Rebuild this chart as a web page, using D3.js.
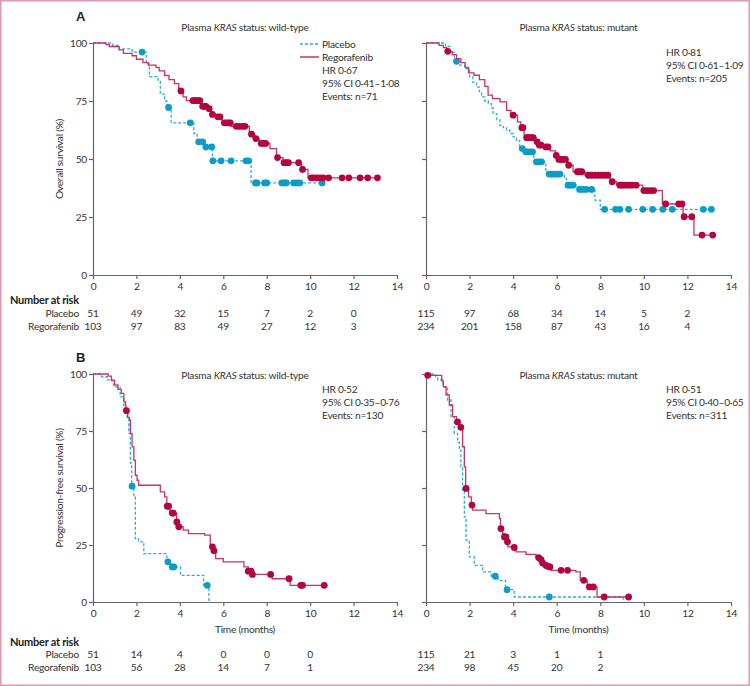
<!DOCTYPE html>
<html>
<head>
<meta charset="utf-8">
<script src="https://cdn.jsdelivr.net/npm/d3@7"></script>
<style>
    body { margin: 0; background: #fff; }
    svg { display: block; font-family: Lato, "Open Sans", sans-serif; }
    svg text { font-size: 10.2px; letter-spacing: -0.25px; }
</style>
</head>
<body>
<svg id="chart" width="750" height="686"></svg>
<script>
// 时间刻度（月）
const timeTicks = [0, 2, 4, 6, 8, 10, 12, 14];
const survTicks = [0, 25, 50, 75, 100];

// A 总生存期 野生型
const osWtPlaceboT = [0, 0.9, 1.2, 1.8, 2.45, 2.6, 3.0, 3.1, 3.3, 3.4, 3.6, 4.64, 4.8, 5.1, 5.5, 7.28];
const osWtPlaceboS = [100, 99, 97.5, 96.1, 91, 85.5, 83.5, 78, 75, 72.2, 65.6, 61, 57.4, 55.2, 49.2, 39.7];
const osWtPlaceboCensor = [2.26, 3.48, 4.48, 4.87, 5.05, 5.2, 5.47, 5.52, 5.9, 6.36, 7.05, 7.17, 7.48, 7.55, 7.9, 8.0, 8.7, 8.83, 8.9, 9.24, 9.4, 9.52, 10.55];
const osWtPlaceboEnd = 10.55;

const osWtRegoT = [0, 0.6, 0.75, 1.2, 1.4, 1.8, 2.0, 2.3, 2.55, 2.9, 3.05, 3.3, 3.5, 3.75, 3.95, 4.15, 4.3, 4.97, 5.27, 5.45, 5.65, 5.95, 6.35, 7.2, 7.45, 7.65, 8.15, 8.45, 8.75, 9.6, 9.9];
const osWtRegoS = [100, 99.3, 98.5, 97, 95.5, 94.5, 93, 91.5, 90.5, 89.5, 88, 86, 84.2, 82.5, 79.3, 76.8, 75.2, 72.7, 71.7, 69.2, 68.2, 65.6, 64.1, 60.7, 58.8, 56.7, 54.5, 50.6, 48.4, 45.5, 41.9];
const osWtRegoCensor = [4.05, 4.6, 4.68, 4.76, 4.85, 4.92, 5.05, 5.12, 5.2, 5.35, 5.5, 5.75, 5.85, 6.05, 6.15, 6.25, 6.32, 6.6, 6.75, 6.9, 7.0, 7.3, 7.5, 7.75, 7.85, 7.95, 8.5, 8.8, 8.9, 9.0, 9.47, 9.65, 10.05, 10.15, 10.3, 10.45, 10.6, 10.85, 11.47, 11.78, 12.3, 12.65, 13.1];
const osWtRegoEnd = 13.1;

// A 总生存期 突变型
const osMutPlaceboT = [0, 0.9, 1.1, 1.3, 1.55, 1.78, 2.0, 2.15, 2.32, 2.45, 2.55, 2.7, 2.86, 3.0, 3.08, 3.25, 3.39, 3.55, 3.7, 3.85, 4.0, 4.15, 4.3, 4.5, 4.95, 5.5, 5.6, 6.35, 6.45, 6.95, 7.75, 8.0];
const osMutPlaceboS = [100, 98.5, 96, 92.1, 90.5, 89, 85.4, 83, 81, 79, 76.8, 75, 73.9, 72, 69.6, 67, 64.5, 63.5, 62.5, 61, 59.5, 58, 54.5, 53.1, 48.8, 45.2, 43.5, 41.6, 38.7, 36.9, 32.3, 28.3];
const osMutPlaceboCensor = [1.4, 4.42, 4.58, 4.68, 4.8, 4.89, 5.07, 5.2, 5.3, 5.65, 5.75, 5.85, 5.95, 6.05, 6.15, 6.52, 6.62, 6.75, 7.05, 7.2, 7.35, 7.6, 8.2, 8.7, 8.9, 9.3, 9.95, 10.4, 10.87, 11.3, 12.73, 13.1];
const osMutPlaceboEnd = 13.1;

const osMutRegoT = [0, 0.6, 0.8, 0.95, 1.2, 1.4, 1.6, 1.8, 1.95, 2.2, 2.45, 2.7, 2.85, 3.05, 3.4, 3.7, 3.9, 4.2, 4.35, 4.5, 4.6, 5.05, 5.15, 5.35, 5.7, 5.95, 6.05, 6.5, 6.75, 7.3, 8.45, 8.75, 9.95, 10.85, 11.8, 12.3];
const osMutRegoS = [100, 99, 98, 96.4, 95, 93.3, 91.5, 89.5, 87.1, 86.1, 84.2, 81.3, 77.5, 76, 74.6, 71, 68.9, 66, 63.5, 60.3, 59.2, 57.4, 56, 55.2, 53.5, 51.5, 49.8, 47.3, 44.5, 43, 40.2, 38.7, 36.4, 30.6, 25.1, 17.2];
const osMutRegoCensor = [1.0, 4.0, 4.4, 4.45, 4.62, 4.68, 4.75, 4.85, 4.92, 5.1, 5.2, 5.28, 5.5, 5.6, 5.98, 6.1, 6.2, 6.3, 6.4, 6.55, 6.95, 7.05, 7.15, 7.45, 7.6, 7.75, 7.9, 8.05, 8.2, 8.35, 8.55, 8.9, 9.0, 9.15, 9.3, 9.45, 9.65, 10.0, 10.15, 10.3, 10.45, 11.0, 11.6, 11.75, 11.85, 12.2, 12.67, 13.16];
const osMutRegoEnd = 13.16;

// B 无进展生存期 野生型
const pfsWtPlaceboT = [0, 0.4, 0.65, 0.95, 1.25, 1.42, 1.57, 1.65, 1.72, 1.78, 1.88, 1.95, 2.1, 2.34, 3.4, 3.55, 4.03, 5.1, 5.34];
const pfsWtPlaceboS = [100, 98.8, 97.4, 94.4, 90, 85, 81, 74, 60.9, 50.8, 46, 27.8, 26.4, 21.2, 17.6, 15.4, 11.7, 7.3, 0];
const pfsWtPlaceboCensor = [1.8, 3.45, 3.65, 3.72, 5.26];
const pfsWtPlaceboEnd = 5.34;

const pfsWtRegoT = [0, 0.7, 0.85, 1.0, 1.15, 1.3, 1.42, 1.5, 1.52, 1.6, 1.68, 1.72, 1.8, 1.88, 1.95, 2.03, 2.1, 3.1, 3.3, 3.4, 3.55, 3.85, 3.93, 4.15, 4.4, 5.15, 5.4, 5.55, 5.65, 6.0, 6.95, 7.15, 7.3, 8.25, 9.08];
const pfsWtRegoS = [100, 99.1, 97.1, 95.2, 93.3, 91.5, 87.8, 86, 83.9, 81, 79.8, 74, 68, 62.2, 55.6, 53.4, 51.2, 48.3, 46.1, 42, 39, 35.1, 33, 31.5, 30, 29.3, 24.2, 22.5, 19.0, 17.6, 15.4, 13.5, 12.1, 10.2, 7.3];
const pfsWtRegoCensor = [1.54, 3.42, 3.48, 3.65, 3.7, 3.86, 3.95, 5.5, 5.57, 7.15, 7.28, 7.34, 8.18, 9.03, 9.57, 9.65, 10.65];
const pfsWtRegoEnd = 10.65;

// B 无进展生存期 突变型
const pfsMutPlaceboT = [0, 0.45, 0.54, 0.77, 0.99, 1.15, 1.3, 1.45, 1.53, 1.6, 1.68, 1.76, 1.84, 1.99, 2.22, 2.6, 3.0, 3.3, 3.65, 4.05, 9.05];
const pfsMutPlaceboS = [100, 98.8, 97.4, 94.4, 88.6, 81.3, 74, 70, 66.7, 59.3, 49, 37.3, 27.1, 19.8, 16.1, 13.2, 11.3, 9.5, 5.4, 2.2, 0];
const pfsMutPlaceboCensor = [3.18, 3.72, 5.66];
const pfsMutPlaceboEnd = 9.05;

const pfsMutRegoT = [0, 0.05, 0.72, 0.8, 0.92, 1.07, 1.22, 1.4, 1.55, 1.68, 1.76, 1.82, 1.95, 2.08, 2.14, 2.75, 3.37, 3.42, 3.52, 3.58, 3.72, 3.76, 4.02, 4.13, 4.59, 5.05, 5.15, 5.25, 5.33, 5.45, 5.55, 5.65, 5.75, 6.88, 7.08, 7.4, 7.85];
const pfsMutRegoS = [100, 99.4, 97, 94.4, 90.8, 86.4, 81.3, 79, 76.6, 68.1, 59.3, 49.8, 46.1, 42.5, 40.3, 38.8, 36.6, 32.2, 30, 28.5, 26.4, 24.2, 23.9, 22, 20.9, 19.8, 19.5, 18.6, 17.1, 16.1, 15.7, 15.4, 13.9, 13.2, 9.5, 6.6, 2.2];
const pfsMutRegoCensor = [0.08, 1.45, 1.6, 1.84, 2.11, 3.44, 3.6, 3.67, 3.74, 4.05, 5.17, 5.28, 5.35, 5.5, 5.58, 5.69, 6.2, 6.5, 7.24, 7.5, 7.68, 8.18, 9.3];
const pfsMutRegoEnd = 9.3;

// 风险人数
const osWtRiskPlacebo = [51, 49, 32, 15, 7, 2, 0];
const osWtRiskRego = [103, 97, 83, 49, 27, 12, 3];
const osMutRiskPlacebo = [115, 97, 68, 34, 14, 5, 2];
const osMutRiskRego = [234, 201, 158, 87, 43, 16, 4];
const pfsWtRiskPlacebo = [51, 14, 4, 0, 0, 0];
const pfsWtRiskRego = [103, 56, 28, 14, 7, 1];
const pfsMutRiskPlacebo = [115, 21, 3, 1, 1];
const pfsMutRiskRego = [234, 98, 45, 20, 2];

const placeboColor = "#2aaed6";
const placeboDot = "#0d9cc6";
const regoColor = "#c93462";
const regoDot = "#b3063f";

class kmPanel {

    constructor({svg, x0, x1, yTop, yBottom}) {
        this.svg = svg;
        this.scaleX = d3.scaleLinear().domain([0, 14]).range([x0, x1]);
        this.scaleY = d3.scaleLinear().domain([0, 100]).range([yBottom, yTop]);
        this.g = svg.append("g");
    }

    // 坐标轴
    drawAxes(showYLabels) {
        const axisX = this.g.append("g")
            .attr("transform", `translate(0,${this.scaleY(0)})`)
            .call(d3.axisBottom(this.scaleX).tickValues(timeTicks).tickSize(4).tickSizeOuter(0).tickPadding(4));
        const axisY = this.g.append("g")
            .attr("transform", `translate(${this.scaleX(0)},0)`)
            .call(d3.axisLeft(this.scaleY).tickValues(survTicks).tickSize(4).tickSizeOuter(0).tickPadding(2)
                .tickFormat(d => showYLabels ? d : ""));
        [axisX, axisY].forEach(a => {
            a.attr("font-size", null).attr("font-family", null);
            a.selectAll("path, line").attr("stroke", "#666").attr("stroke-width", 1.2);
            a.selectAll("text").attr("fill", "#333");
        });
        return this;
    }

    // 阶梯生存曲线 + 删失点
    drawCurve(times, surv, end, censor, color, dotColor, dashed) {
        const pts = times.map((t, i) => [t, surv[i]]);
        pts.push([end, surv[surv.length - 1]]);
        const line = d3.line()
            .x(d => this.scaleX(d[0]))
            .y(d => this.scaleY(d[1]))
            .curve(d3.curveStepAfter);
        this.g.append("path")
            .datum(pts)
            .attr("fill", "none")
            .attr("stroke", color)
            .attr("stroke-width", 1.3)
            .attr("stroke-dasharray", dashed ? "3,2" : null)
            .attr("d", line);

        const valueAt = t => surv[Math.max(0, d3.bisectRight(times, t) - 1)];
        this.g.append("g").selectAll("circle")
            .data(censor)
            .join("circle")
            .attr("cx", d => this.scaleX(d))
            .attr("cy", d => this.scaleY(valueAt(d)))
            .attr("r", 3.4)
            .attr("fill", dotColor);
        return this;
    }

    title(text, y) {
        const t = this.g.append("text")
            .attr("x", (this.scaleX(0) + this.scaleX(14)) / 2)
            .attr("y", y)
            .attr("text-anchor", "middle")
            .attr("fill", "#333");
        t.append("tspan").text("Plasma ");
        t.append("tspan").style("font-style", "italic").text("KRAS");
        t.append("tspan").text(" status: " + text);
        return this;
    }

    notes(lines, x, y) {
        this.g.append("g").selectAll("text")
            .data(lines)
            .join("text")
            .attr("x", x)
            .attr("y", (d, i) => y + i * 13)
            .attr("fill", "#333")
            .text(d => d);
        return this;
    }

    risk(placebo, rego, y) {
        const rows = [[placebo, y], [rego, y + 13]];
        rows.forEach(([vals, yy]) => {
            this.g.append("g").selectAll("text")
                .data(vals)
                .join("text")
                .attr("x", (d, i) => this.scaleX(timeTicks[i]))
                .attr("y", yy)
                .attr("text-anchor", "middle")
                .attr("fill", "#333")
                .text(d => d);
        });
        return this;
    }

    xLabel(text, y) {
        this.g.append("text")
            .attr("x", (this.scaleX(0) + this.scaleX(14)) / 2)
            .attr("y", y)
            .attr("text-anchor", "middle")
            .attr("fill", "#333")
            .text(text);
        return this;
    }

    yLabel(text, x) {
        const cy = (this.scaleY(0) + this.scaleY(100)) / 2;
        this.g.append("text")
            .attr("transform", `translate(${x},${cy}) rotate(-90)`)
            .attr("text-anchor", "middle")
            .attr("fill", "#333")
            .text(text);
        return this;
    }
}

const svg = d3.select("#chart");

// 外框
svg.append("rect")
    .attr("x", 0.75).attr("y", 0.75)
    .attr("width", 748.5).attr("height", 684.5)
    .attr("fill", "#fff")
    .attr("stroke", "#dc9ab3")
    .attr("stroke-width", 1.5);

const hrText = (hr, ci, n) => [`HR ${hr}`, `95% CI ${ci}`, `Events: n=${n}`];

// A
const aLeft = new kmPanel({svg, x0: 93, x1: 397, yTop: 43, yBottom: 275})
    .drawAxes(true)
    .title("wild-type", 31)
    .drawCurve(osWtPlaceboT, osWtPlaceboS, osWtPlaceboEnd, osWtPlaceboCensor, placeboColor, placeboDot, true)
    .drawCurve(osWtRegoT, osWtRegoS, osWtRegoEnd, osWtRegoCensor, regoColor, regoDot, false)
    .notes(hrText("0·67", "0·41–1·08", 71), 322, 74)
    .risk(osWtRiskPlacebo, osWtRiskRego, 317)
    .yLabel("Overall survival (%)", 63);

const aRight = new kmPanel({svg, x0: 426, x1: 731, yTop: 43, yBottom: 275})
    .drawAxes(false)
    .title("mutant", 31)
    .drawCurve(osMutPlaceboT, osMutPlaceboS, osMutPlaceboEnd, osMutPlaceboCensor, placeboColor, placeboDot, true)
    .drawCurve(osMutRegoT, osMutRegoS, osMutRegoEnd, osMutRegoCensor, regoColor, regoDot, false)
    .notes(hrText("0·81", "0·61–1·09", 205), 666, 56)
    .risk(osMutRiskPlacebo, osMutRiskRego, 317);

// 图例
const legend = svg.append("g");
legend.append("line").attr("x1", 300).attr("x2", 319).attr("y1", 44).attr("y2", 44)
    .attr("stroke", placeboColor).attr("stroke-width", 1.3).attr("stroke-dasharray", "3,2");
legend.append("line").attr("x1", 300).attr("x2", 319).attr("y1", 57).attr("y2", 57)
    .attr("stroke", regoColor).attr("stroke-width", 1.5);
legend.selectAll("text.lg")
    .data(["Placebo", "Regorafenib"])
    .join("text")
    .attr("class", "lg")
    .attr("x", 322)
    .attr("y", (d, i) => 48 + i * 13)
    .attr("fill", "#333")
    .text(d => d);

// B
const bLeft = new kmPanel({svg, x0: 93, x1: 397, yTop: 374, yBottom: 602})
    .drawAxes(true)
    .title("wild-type", 379)
    .drawCurve(pfsWtPlaceboT, pfsWtPlaceboS, pfsWtPlaceboEnd, pfsWtPlaceboCensor, placeboColor, placeboDot, true)
    .drawCurve(pfsWtRegoT, pfsWtRegoS, pfsWtRegoEnd, pfsWtRegoCensor, regoColor, regoDot, false)
    .notes(hrText("0·52", "0·35–0·76", 130), 322, 393)
    .xLabel("Time (months)", 633)
    .risk(pfsWtRiskPlacebo, pfsWtRiskRego, 658)
    .yLabel("Progression-free survival (%)", 63);

const bRight = new kmPanel({svg, x0: 426, x1: 731, yTop: 374, yBottom: 602})
    .drawAxes(false)
    .title("mutant", 379)
    .drawCurve(pfsMutPlaceboT, pfsMutPlaceboS, pfsMutPlaceboEnd, pfsMutPlaceboCensor, placeboColor, placeboDot, true)
    .drawCurve(pfsMutRegoT, pfsMutRegoS, pfsMutRegoEnd, pfsMutRegoCensor, regoColor, regoDot, false)
    .notes(hrText("0·51", "0·40–0·65", 311), 666, 393)
    .xLabel("Time (months)", 633)
    .risk(pfsMutRiskPlacebo, pfsMutRiskRego, 658);

// 面板标签与风险表标题
svg.selectAll("text.panel")
    .data([["A", 21], ["B", 362]])
    .join("text")
    .attr("class", "panel")
    .attr("x", 76)
    .attr("y", d => d[1])
    .style("font-size", "13px")
    .style("letter-spacing", "0")
    .style("font-weight", "bold")
    .style("font-family", "'Liberation Sans', sans-serif")
    .attr("fill", "#222")
    .text(d => d[0]);

svg.selectAll("text.nar")
    .data([304, 646])
    .join("text")
    .attr("class", "nar")
    .attr("x", 10)
    .attr("y", d => d)
    .style("font-size", "11px")
    .style("font-weight", "bold")
    .attr("fill", "#222")
    .text("Number at risk");

svg.selectAll("text.rowlab")
    .data([["Placebo", 317], ["Regorafenib", 330], ["Placebo", 658], ["Regorafenib", 671]])
    .join("text")
    .attr("class", "rowlab")
    .attr("x", 79)
    .attr("y", d => d[1])
    .attr("text-anchor", "end")
    .attr("fill", "#333")
    .text(d => d[0]);
</script>
</body>
</html>
